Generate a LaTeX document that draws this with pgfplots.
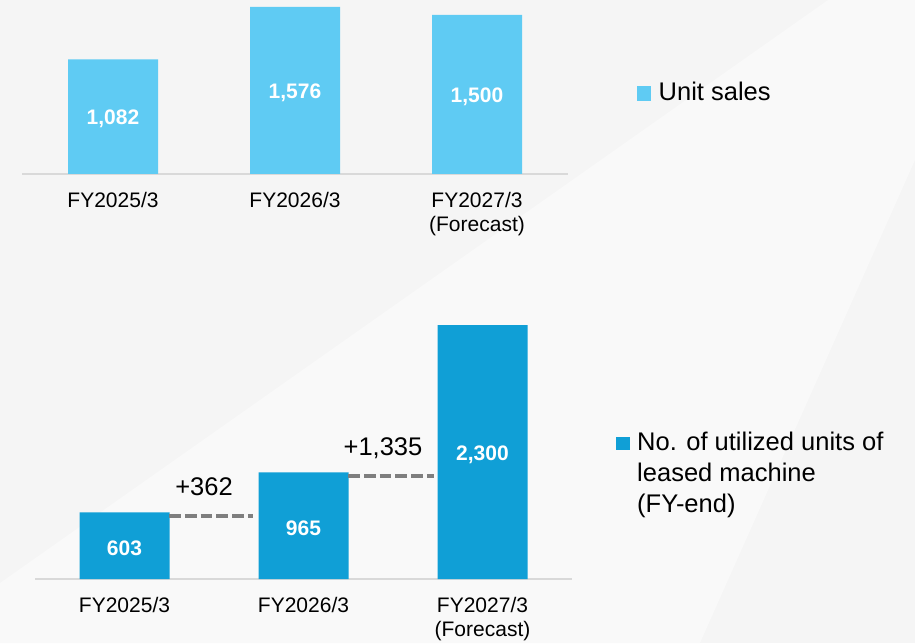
\documentclass[border=0pt]{standalone}
\usepackage{pgfplots}
\pgfplotsset{compat=1.18}
\usepackage{pgfplotstable}
\usepackage{fontspec}
\setmainfont{Liberation Sans}
\definecolor{lightbar}{HTML}{5FCBF3}
\definecolor{darkbar}{HTML}{109FD6}
\definecolor{axgray}{HTML}{D9D9D9}
\definecolor{dashgray}{HTML}{7F7F7F}
\definecolor{bgA}{HTML}{F5F5F5}
\definecolor{bgB}{HTML}{F9F9F9}

\pgfplotstableread{
x y label
0 541 1,082
1 788 1,576
2 750 1,500
}\toplabels
\pgfplotstableread{
x y label
0 301.5 603
1 482.5 965
2 1150 2,300
}\botlabels

\pgfplotsset{
  mybar/.style={
    scale only axis, clip=false,
    xmin=-0.5, xmax=2.5, ymin=0,
    hide y axis,
    axis x line=bottom,
    x axis line style={-, draw=axgray, line width=2.7pt},
    xtick={0,1,2},
    major tick length=0pt,
    xtick style={draw=none},
    xticklabel style={anchor=north, inner sep=0pt, yshift=-17.6pt, align=center,
      font=\fontsize{21}{24}\selectfont, text=black},
    legend style={draw=none, fill=none, inner sep=0pt, anchor=north west,
      font=\fontsize{25.5}{31}\selectfont, column sep=5.5pt,
      cells={anchor=base west, inner sep=0pt}},
  },
  vallabel/.style={draw=none, nodes near coords, point meta=explicit symbolic,
    every node near coord/.style={anchor=center, inner sep=0pt, text=white, yshift=-2.5pt,
      font=\fontsize{21}{24}\selectfont\bfseries}},
  dashlink/.style={forget plot, draw=dashgray, line width=4.2pt, dash pattern=on 11.7pt off 4pt, yshift=-3.2pt},
}

\begin{document}
\begin{tikzpicture}[x=1pt,y=1pt]
\fill[bgA] (0,0) rectangle (915,643);
\fill[bgB] (0,0) -- (0,60) -- (828,643) -- (915,643) -- (915,483) -- (700,0) -- cycle;
\useasboundingbox (0,0) rectangle (915,643);

\begin{axis}[mybar, at={(22pt,469pt)}, anchor=south west,
  width=546pt, height=169.6pt, ymax=1600,
  xticklabels={FY2025/3, FY2026/3, {FY2027/3\\(Forecast)}},
  legend style={at={(1.1264,0.556)}}]
\addplot[ybar, bar width=90pt, fill=lightbar, draw=none,
  legend image code/.code={\fill[lightbar] (0pt,-0.7pt) rectangle (14pt,14pt);}]
  coordinates {(0,1082) (1,1576) (2,1500)};
\addlegendentry{Unit sales}
\addplot[vallabel, forget plot] table[x=x, y=y, meta=label] {\toplabels};
\end{axis}

\begin{axis}[mybar, at={(35pt,64pt)}, anchor=south west,
  width=537pt, height=254pt, ymax=2300,
  xticklabels={FY2025/3, FY2026/3, {FY2027/3\\(Forecast)}},
  legend style={at={(1.082,0.589)}}]
\addplot[ybar, bar width=90pt, fill=darkbar, draw=none,
  legend image code/.code={\fill[darkbar] (0pt,0pt) rectangle (13.5pt,13.5pt);}]
  coordinates {(0,603) (1,965) (2,2300)};
\addlegendentry{\vtop{\hbox{No. of utilized units of}\hbox{leased machine}\hbox{(FY-end)}}}
\addplot[dashlink] coordinates {(0.25,603) (0.72,603)};
\addplot[dashlink] coordinates {(1.25,965) (1.73,965)};
\addplot[vallabel, forget plot] table[x=x, y=y, meta=label] {\botlabels};
\node[anchor=base, xshift=-10pt, yshift=17pt, font=\fontsize{25.5}{30}\selectfont]
  at (axis cs:0.5,603) {+362};
\node[anchor=base, xshift=-10pt, yshift=17pt, font=\fontsize{25.5}{30}\selectfont]
  at (axis cs:1.5,965) {+1,335};
\end{axis}
\end{tikzpicture}
\end{document}
